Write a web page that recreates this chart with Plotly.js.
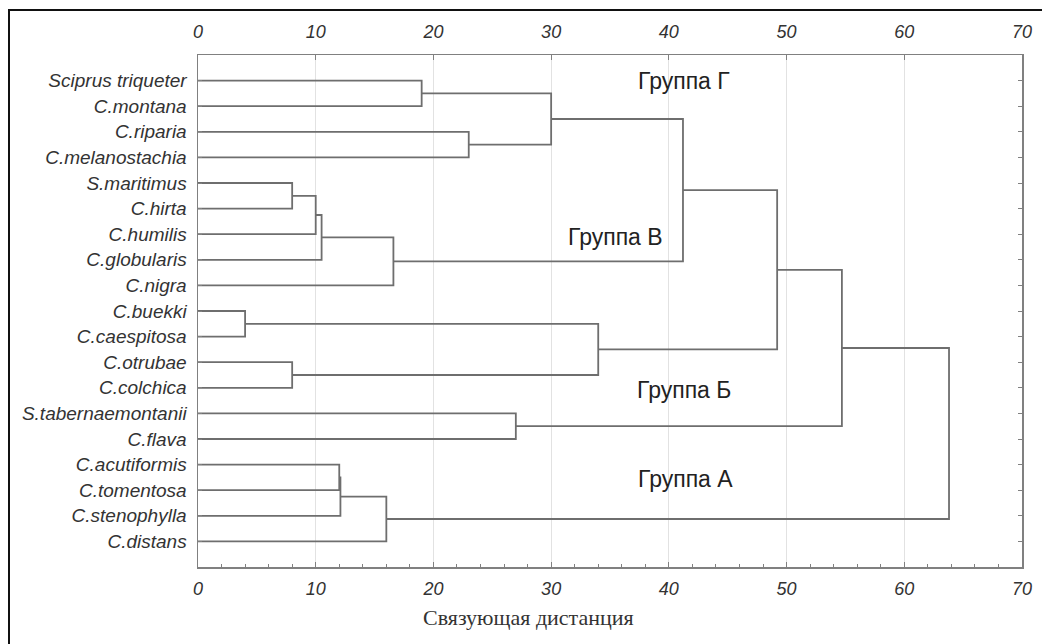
<!DOCTYPE html>
<html>
<head>
<meta charset="utf-8">
<script src="https://cdn.plot.ly/plotly-3.0.1.min.js"></script>
<style>
html,body{margin:0;padding:0;background:#fff;overflow:hidden;}
#wrap{position:relative;width:1042px;height:644px;}
#chart{position:absolute;left:0;top:0;width:1042px;height:644px;}
#frame{position:absolute;left:8px;top:9px;width:3000px;height:3000px;border-left:2px solid #111;border-top:2px solid #111;pointer-events:none;}
</style>
</head>
<body>
<div id="wrap"><div id="chart"></div><div id="frame"></div></div>
<script>
// Leaves (top to bottom)
const leaves = [
  "Sciprus triqueter", "C.montana", "C.riparia", "C.melanostachia",
  "S.maritimus", "C.hirta", "C.humilis", "C.globularis", "C.nigra",
  "C.buekki", "C.caespitosa", "C.otrubae", "C.colchica",
  "S.tabernaemontanii", "C.flava",
  "C.acutiformis", "C.tomentosa", "C.stenophylla", "C.distans"
];
// Merge steps: children (L# = leaf index, M# = earlier merge) and linkage distance
const mergeLeft  = ["L0","L2","M0","L4","M3","M4","M5","M2","L9","L11","M8","M7","L13","M11","L15","M14","M15","M13"];
const mergeRight = ["L1","L3","M1","L5","L6","L7","L8","M6","L10","L12","M9","M10","L14","M12","L16","L17","L18","M16"];
const mergeDist  = [19, 23, 30, 8, 10, 10.5, 16.6, 41.2, 4, 8, 34, 49.2, 27, 54.7, 12, 12.1, 16, 63.8];
const xTicks = [0, 10, 20, 30, 40, 50, 60, 70];
const groupLabels = ["Группа Г", "Группа В", "Группа Б", "Группа А"];
const axisTitle = "Связующая дистанция";

// Build dendrogram path
const nodePos = {};
leaves.forEach((n, i) => { nodePos["L" + i] = {x: 0, y: i + 1}; });
const xs = [], ys = [];
mergeDist.forEach((d, k) => {
  const a = nodePos[mergeLeft[k]], b = nodePos[mergeRight[k]];
  xs.push(a.x, d, d, b.x, null);
  ys.push(a.y, a.y, b.y, b.y, null);
  nodePos["M" + k] = {x: d, y: (a.y + b.y) / 2};
});

const lineCol = "#6e6e6e";
const axCol = "#808080";
const tickFont = {family: "Liberation Sans, Arial, sans-serif", size: 18, color: "#333", style: "italic"};

const traces = [
  {x: xs, y: ys, type: "scatter", mode: "lines", line: {color: lineCol, width: 1.8}, hoverinfo: "skip", showlegend: false},
  {x: [0], y: [1], xaxis: "x2", yaxis: "y", type: "scatter", mode: "markers", marker: {opacity: 0}, hoverinfo: "skip", showlegend: false}
];

const layout = {
  width: 1042, height: 644,
  margin: {l: 198, r: 20, t: 55, b: 77},
  paper_bgcolor: "#fff", plot_bgcolor: "#fff",
  showlegend: false,
  xaxis: {
    range: [0, 70], tickvals: xTicks, ticktext: xTicks.map(String),
    ticks: "inside", ticklen: 5, tickcolor: axCol, tickwidth: 1,
    minor: {dtick: 2, tick0: 0, ticks: "inside", ticklen: 3, tickcolor: axCol, showgrid: false},
    showgrid: true, gridcolor: "#e2e2e2", gridwidth: 1,
    showline: true, linecolor: axCol, linewidth: 1.5, mirror: true,
    zeroline: false, tickfont: tickFont, ticklabelstandoff: 5
  },
  xaxis2: {
    overlaying: "x", side: "top", anchor: "y", matches: "x",
    range: [0, 70], tickvals: xTicks, ticktext: xTicks.map(String),
    ticks: "inside", ticklen: 5, tickcolor: axCol,
    showgrid: false, zeroline: false, showline: false,
    tickfont: tickFont, ticklabelstandoff: 12
  },
  yaxis: {
    range: [20, 0],
    tickvals: leaves.map((_, i) => i + 1), ticktext: leaves,
    ticks: "inside", ticklen: 4, tickcolor: axCol, mirror: "ticks",
    showline: true, linecolor: axCol, linewidth: 1.5,
    showgrid: false, zeroline: false,
    tickfont: {family: "Liberation Sans, Arial, sans-serif", size: 19, color: "#333", style: "italic"},
    ticklabelstandoff: 6
  },
  annotations: [
    {x: 41.3, y: 1, text: groupLabels[0]},
    {x: 35.5, y: 7.1, text: groupLabels[1]},
    {x: 41.3, y: 13.1, text: groupLabels[2]},
    {x: 41.4, y: 16.55, text: groupLabels[3]}
  ].map(a => Object.assign(a, {xref: "x", yref: "y", showarrow: false, xanchor: "center", yanchor: "middle",
      font: {family: "Liberation Sans, Arial, sans-serif", size: 23, color: "#222"}}))
  .concat([{
    xref: "paper", yref: "paper", x: 0.4005, y: -0.098, xanchor: "center", yanchor: "middle",
    showarrow: false, text: axisTitle,
    font: {family: "Liberation Serif, Times New Roman, serif", size: 22, color: "#333"}
  }])
};

Plotly.newPlot("chart", traces, layout, {staticPlot: true, displayModeBar: false});
</script>
</body>
</html>
